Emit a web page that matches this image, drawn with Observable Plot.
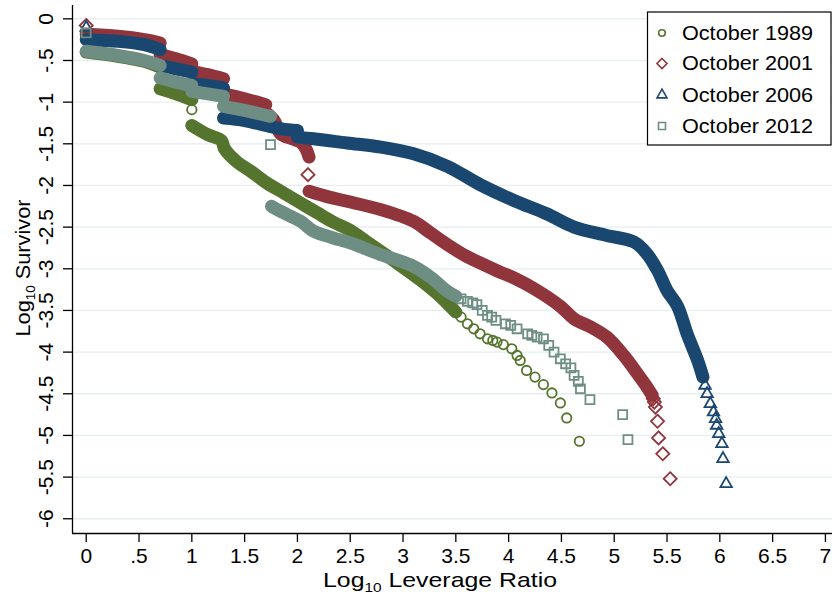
<!DOCTYPE html>
<html><head><meta charset="utf-8">
<script src="https://cdn.jsdelivr.net/npm/d3@7"></script>
<script src="https://cdn.jsdelivr.net/npm/@observablehq/plot@0.6"></script>
<style>html,body{margin:0;padding:0;background:#fff;}</style>
</head><body><div id="chart"></div>
<script>
// ---------- data ----------
const seriesNames = ["October 1989", "October 2001", "October 2006", "October 2012"];
const seriesColors = ["#55752f", "#90353b", "#1a476f", "#6e8e84"];
const seriesSymbols = ["circle", "diamond2", "triangle2", "square2"];

const xTicks = [0, 0.5, 1, 1.5, 2, 2.5, 3, 3.5, 4, 4.5, 5, 5.5, 6, 6.5, 7];
const xTickLabels = ["0", ".5", "1", "1.5", "2", "2.5", "3", "3.5", "4", "4.5", "5", "5.5", "6", "6.5", "7"];
const yTicks = [0, -0.5, -1, -1.5, -2, -2.5, -3, -3.5, -4, -4.5, -5, -5.5, -6];
const yTickLabels = ["0", "-.5", "-1", "-1.5", "-2", "-2.5", "-3", "-3.5", "-4", "-4.5", "-5", "-5.5", "-6"];

// dense parts of each survivor curve (NaN = break at a jump)
const band1989X = [0, 0.3, 0.55, 0.70, NaN, 0.70, 0.85, 1.0, NaN, 1.0, 1.15, 1.28, 1.31, 1.43, 1.56, 1.71, 1.87, 2.03, 2.19, 2.34, 2.5, 2.66, 2.91, 3.17, 3.36, 3.50];
const band1989Y = [-0.40, -0.45, -0.51, -0.58, NaN, -0.84, -0.90, -0.97, NaN, -1.28, -1.39, -1.46, -1.56, -1.72, -1.83, -1.97, -2.09, -2.21, -2.33, -2.44, -2.54, -2.68, -2.90, -3.14, -3.34, -3.52];
const pts1989X = [0, 1.0, 3.55, 3.61, 3.67, 3.73, 3.80, 3.85, 3.89, 3.95, 4.03, 4.08, 4.11, 4.17, 4.25, 4.33, 4.41, 4.49, 4.55, 4.67];
const pts1989Y = [-0.22, -1.09, -3.58, -3.66, -3.72, -3.78, -3.84, -3.86, -3.88, -3.91, -3.96, -4.04, -4.10, -4.22, -4.30, -4.39, -4.49, -4.61, -4.79, -5.07];

const band2001X = [0, 0.3, 0.55, 0.70, NaN, 0.70, 0.85, 1.0, NaN, 1.0, 1.15, 1.30, NaN, 1.30, 1.5, 1.70, NaN, 1.70, 1.78, 1.84, 1.95, 2.03, 2.08, 2.11, NaN, 2.11, 2.3, 2.47, 2.79, 3.10, 3.25, 3.42, 3.6, 3.73, 3.9, 4.05, 4.27, 4.49, 4.62, 4.78, 4.93, 5.09, 5.22, 5.31, 5.36];
const band2001Y = [-0.185, -0.21, -0.25, -0.29, NaN, -0.43, -0.48, -0.54, NaN, -0.63, -0.67, -0.72, NaN, -0.90, -0.96, -1.03, NaN, -1.12, -1.22, -1.38, -1.44, -1.48, -1.56, -1.66, NaN, -2.07, -2.14, -2.19, -2.29, -2.43, -2.56, -2.71, -2.85, -2.93, -3.03, -3.11, -3.26, -3.45, -3.60, -3.70, -3.82, -4.04, -4.26, -4.42, -4.52];
const pts2001X = [0, 2.10, 5.37, 5.38, 5.39, 5.41, 5.42, 5.46, 5.53];
const pts2001Y = [-0.08, -1.87, -4.56, -4.60, -4.66, -4.83, -5.03, -5.22, -5.52];

const band2006X = [0, 0.3, 0.55, 0.70, NaN, 0.70, 0.85, 1.0, NaN, 1.0, 1.15, 1.30, NaN, 1.30, 1.5, 1.70, 1.85, 2.0, NaN, 2.0, 2.155, 2.47, 2.79, 3.10, 3.42, 3.73, 4.05, 4.36, 4.62, 4.93, 5.19, 5.31, 5.41, 5.50, 5.60, 5.69, 5.79, 5.84];
const band2006Y = [-0.25, -0.27, -0.31, -0.37, NaN, -0.56, -0.60, -0.64, NaN, -0.78, -0.80, -0.83, NaN, -1.19, -1.22, -1.28, -1.32, -1.34, NaN, -1.42, -1.44, -1.49, -1.54, -1.62, -1.77, -1.99, -2.18, -2.34, -2.50, -2.60, -2.68, -2.82, -3.02, -3.26, -3.45, -3.78, -4.10, -4.30];
const pts2006X = [0, 5.86, 5.88, 5.91, 5.94, 5.96, 5.97, 5.99, 6.02, 6.03, 6.06];
const pts2006Y = [-0.105, -4.40, -4.50, -4.62, -4.72, -4.80, -4.88, -4.98, -5.10, -5.28, -5.58];

const band2012X = [0, 0.3, 0.55, 0.70, NaN, 0.70, 0.85, 1.0, NaN, 1.0, 1.15, 1.30, NaN, 1.30, 1.5, 1.745, NaN, 1.755, 1.84, 2.03, 2.155, 2.34, 2.5, 2.79, 3.10, 3.26, 3.42, 3.50];
const band2012Y = [-0.39, -0.44, -0.50, -0.56, NaN, -0.71, -0.76, -0.80, NaN, -0.87, -0.90, -0.93, NaN, -1.05, -1.10, -1.17, NaN, -2.25, -2.31, -2.43, -2.55, -2.63, -2.69, -2.83, -2.97, -3.10, -3.27, -3.33];
const pts2012X = [0, 1.745, 3.55, 3.61, 3.66, 3.70, 3.75, 3.80, 3.84, 3.88, 3.97, 4.02, 4.08, 4.18, 4.22, 4.27, 4.33, 4.38, 4.43, 4.49, 4.54, 4.59, 4.62, 4.66, 4.68, 4.77, 5.08, 5.13];
const pts2012Y = [-0.17, -1.51, -3.36, -3.39, -3.41, -3.43, -3.50, -3.56, -3.58, -3.62, -3.66, -3.68, -3.72, -3.78, -3.80, -3.82, -3.84, -3.92, -4.00, -4.08, -4.14, -4.19, -4.28, -4.35, -4.44, -4.57, -4.75, -5.05];

// ---------- build ----------
const rows = (xs, ys) => xs.map((x, i) => ({x, y: ys[i]}));
const bands = [rows(band1989X, band1989Y), rows(band2001X, band2001Y), rows(band2006X, band2006Y), rows(band2012X, band2012Y)];
const points = [rows(pts1989X, pts1989Y), rows(pts2001X, pts2001Y), rows(pts2006X, pts2006Y), rows(pts2012X, pts2012Y)];
const symbolR = [4.7, 5.9, 5.5, 5.7];

const xDomain = [-0.130, 7.067];
const yDomain = [-6.177, 0.16];

const seriesMarks = [];
for (let i = 0; i < 4; i++) {
  seriesMarks.push(Plot.line(bands[i], {x: "x", y: "y", stroke: seriesColors[i], strokeWidth: 13, curve: "catmull-rom",
    strokeLinecap: "round", strokeLinejoin: "round"}));
  seriesMarks.push(Plot.dot(points[i], {x: "x", y: "y", symbol: seriesSymbols[i], r: symbolR[i], stroke: seriesColors[i], fill: "none", strokeWidth: 1.8}));
}

const chart = Plot.plot({
  width: 832, height: 595,
  marginLeft: 72, marginRight: 0, marginTop: 5, marginBottom: 62,
  x: {domain: xDomain},
  y: {domain: yDomain},
  style: {fontFamily: "'Liberation Sans', Arial, sans-serif", fontSize: "21px", background: "#fff", color: "#000"},
  marks: [
    Plot.ruleY(yTicks, {stroke: "#e6eef1", strokeWidth: 1.3}),
    ...seriesMarks,
    Plot.ruleX([xDomain[0]], {stroke: "#000", strokeWidth: 1.3}),
    Plot.ruleY([yDomain[0]], {stroke: "#000", strokeWidth: 1.3}),
    Plot.axisX({ticks: xTicks, tickSize: 9, tickPadding: 6, strokeWidth: 1.3, label: null, fontSize: 21,
      tickFormat: d => xTickLabels[xTicks.indexOf(d)]}),
    Plot.axisY({ticks: yTicks, tickSize: 9, strokeWidth: 1.3, label: null, tickFormat: () => ""}),
    Plot.text(yTicks, {y: d => d, text: (d, i) => yTickLabels[i], frameAnchor: "left", dx: -19.3, rotate: -90,
      textAnchor: "middle", lineAnchor: "bottom", fontSize: 21, fill: "#000"})
  ]
});
document.getElementById("chart").appendChild(chart);

// ---------- titles and legend ----------
const svg = d3.select(chart);
const xt = svg.append("text").attr("x", 440).attr("y", 586.5).attr("text-anchor", "middle")
  .attr("font-size", 21).attr("fill", "#000");
xt.append("tspan").text("Log");
xt.append("tspan").attr("font-size", 13).attr("dy", 5).text("10");
xt.append("tspan").attr("dy", -5).text(" Leverage Ratio");
xt.attr("textLength", 234).attr("lengthAdjust", "spacingAndGlyphs");

const yt = svg.append("text").attr("transform", "translate(29.5,268) rotate(-90)").attr("text-anchor", "middle")
  .attr("font-size", 21).attr("fill", "#000");
yt.append("tspan").text("Log");
yt.append("tspan").attr("font-size", 13).attr("dy", 5).text("10");
yt.append("tspan").attr("dy", -5).text(" Survivor");
yt.attr("textLength", 137).attr("lengthAdjust", "spacingAndGlyphs");

const lg = svg.append("g");
lg.append("rect").attr("x", 647.5).attr("y", 12).attr("width", 183.5).attr("height", 133)
  .attr("fill", "#fff").attr("stroke", "#000").attr("stroke-width", 1.2);
const legSym = [d3.symbolCircle, d3.symbolDiamond2, d3.symbolTriangle2, d3.symbolSquare2];
const legSize = [34, 64, 72, 62];
const legY = [33, 63.5, 95, 126];
const legBase = [39.5, 70, 101.5, 132.5];
for (let i = 0; i < 4; i++) {
  lg.append("path").attr("d", d3.symbol(legSym[i], legSize[i])())
    .attr("transform", `translate(662,${legY[i]})`)
    .attr("fill", "none").attr("stroke", seriesColors[i]).attr("stroke-width", 1.6);
  lg.append("text").attr("x", 682).attr("y", legBase[i]).attr("font-size", 20).attr("fill", "#000")
    .attr("text-anchor", "start")
    .attr("textLength", 131).attr("lengthAdjust", "spacingAndGlyphs").text(seriesNames[i]);
}
</script></body></html>
